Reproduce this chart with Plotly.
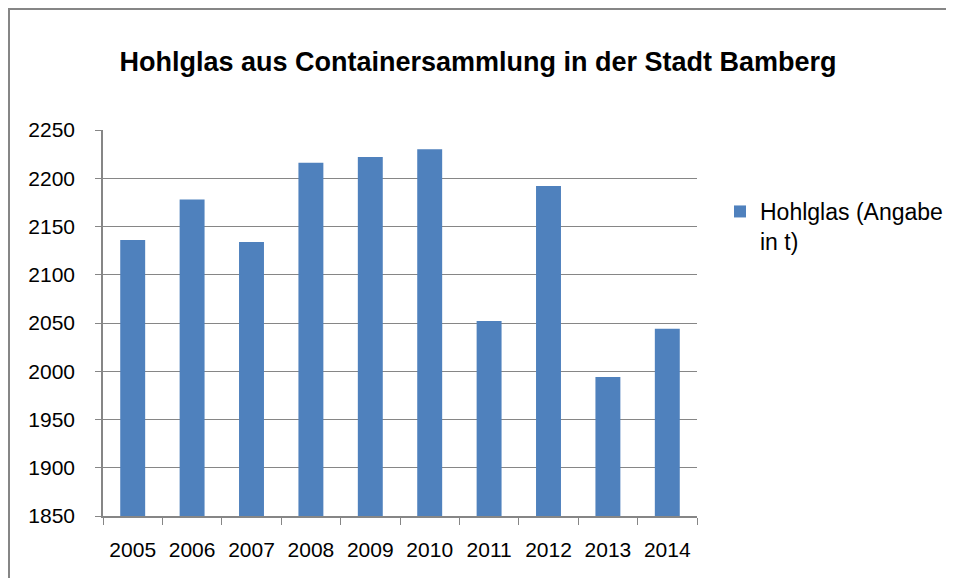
import plotly.graph_objects as go

years = ["2005", "2006", "2007", "2008", "2009", "2010", "2011", "2012", "2013", "2014"]
values = [2136, 2178, 2134, 2216, 2222, 2230, 2052, 2192, 1994, 2044]
series_name = "Hohlglas (Angabe<br>in t)"
title_text = "Hohlglas aus Containersammlung in der Stadt Bamberg"
y_ticks = [1850, 1900, 1950, 2000, 2050, 2100, 2150, 2200, 2250]

# page has an 8px body margin; figure drawn 946x570 starting at (8, 8)
OFF = 8
W, H = 954 - OFF, 578 - OFF
PX0, PX1, PY0, PY1 = 103 - OFF, 697 - OFF, 130 - OFF, 516 - OFF
L, R, T, B = PX0, W - PX1, PY0, H - PY1
font_family = "Liberation Sans, Arial, sans-serif"
axis_gray = "#868686"

fig = go.Figure()
fig.add_trace(go.Bar(
    x=years, y=values, name=series_name,
    marker=dict(color="#4F81BD", line=dict(width=0)),
    showlegend=True,
))

pw = W - L - R
ph = H - T - B
fig.update_layout(
    width=W, height=H,
    margin=dict(l=L, r=R, t=T, b=B, autoexpand=False),
    paper_bgcolor="white", plot_bgcolor="white",
    font=dict(family=font_family, size=21, color="black"),
    bargap=0.58,
    title=dict(text="<b>" + title_text + "</b>", x=(478 - OFF) / W, xref="container", xanchor="center",
               y=1 - (62 - OFF) / H, yref="container", yanchor="middle",
               font=dict(size=27, family=font_family, color="black")),
    legend=dict(x=(720 - OFF - L) / pw, y=(PY1 - (190 - OFF)) / ph, xanchor="left", yanchor="top",
                font=dict(size=23, family=font_family), itemwidth=30, valign="top",
                bgcolor="rgba(0,0,0,0)", tracegroupgap=0),
    showlegend=True,
    xaxis=dict(type="category", showline=True, linecolor=axis_gray, linewidth=1.5,
               ticks="outside", ticklen=7, tickcolor=axis_gray, tickson="boundaries",
               tickangle=0, automargin=False,
               showgrid=False, tickfont=dict(size=21), ticklabelstandoff=14, fixedrange=True),
    yaxis=dict(range=[1850, 2250], tickvals=y_ticks, showline=True, linecolor=axis_gray, linewidth=1.5,
               ticks="outside", ticklen=6, tickcolor=axis_gray, showgrid=True, automargin=False,
               gridcolor=axis_gray, gridwidth=1.2, zeroline=False,
               tickfont=dict(size=21), ticklabelstandoff=16, fixedrange=True),
)

# outer chart frame (left and top edges visible)
fig.add_shape(type="rect", xref="paper", yref="paper",
              x0=(1 - L) / pw, x1=(W + 10 - L) / pw,
              y0=(PY1 - (H + 10)) / ph, y1=(PY1 - 1) / ph,
              line=dict(color=axis_gray, width=2), fillcolor="rgba(0,0,0,0)", layer="below")

fig.write_html("out.html")
